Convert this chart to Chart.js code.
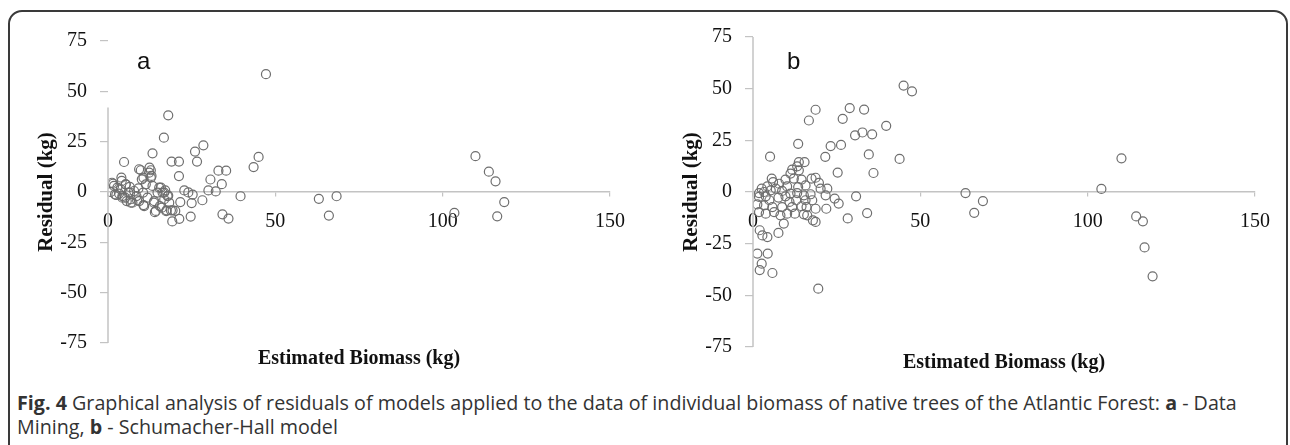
<!doctype html>
<html lang="en">
<head>
<meta charset="utf-8">
<title>Residuals</title>
<style>
  body { margin: 0; background: #fff; width: 1290px; height: 445px; overflow: hidden; position: relative; }
  #frame { position: absolute; left: 8px; top: 10px; width: 1276px; height: 500px; border: 2px solid #3a3a3a; border-radius: 14px; }
  canvas { position: absolute; top: 0; }
  #caption { position: absolute; left: 17px; top: 391px; font-family: "Open Sans", sans-serif; font-size: 19.7px; line-height: 24px; color: #333; white-space: nowrap; }
  #caption b { font-weight: 700; }
</style>
</head>
<body>
<div id="frame"></div>
<canvas id="chartA" width="645" height="385" style="left:0px"></canvas>
<canvas id="chartB" width="645" height="385" style="left:645px"></canvas>
<div id="caption"><b>Fig. 4</b> Graphical analysis of residuals of models applied to the data of individual biomass of native trees of the Atlantic Forest: <b>a</b> - Data<br>Mining, <b>b</b> - Schumacher-Hall model</div>
<script src="https://cdn.jsdelivr.net/npm/chart.js@4.4.1/dist/chart.umd.min.js"></script>
<script>
// axis ticks
var yTicks = [-75, -50, -25, 0, 25, 50, 75];
var xTicks = [0, 50, 100, 150];

// a - Data Mining: estimated biomass (kg) vs residual (kg)
var dmX = [47.2, 18.0, 16.7, 28.5, 26.0, 13.3, 26.6, 19.0, 21.2, 4.8, 45.0, 43.5, 21.2, 33.0, 35.3, 30.6, 34.0, 30.0, 32.2, 39.6,
  28.2, 22.8, 24.0, 25.3, 25.0, 21.6, 24.7, 21.3, 19.2, 34.2, 36.0, 63.0, 68.3, 66.0, 103.5, 109.8, 113.8, 115.8, 118.4, 116.3,
  0.8, 1.8, 1.5, 2.8, 2.1, 3.3, 4.1, 3.8, 4.3, 5.3, 5.1, 6.1, 6.8, 6.5, 7.8, 7.3, 8.5, 9.1, 9.3, 10.1,
  10.5, 10.8, 11.3, 11.8, 12.3, 12.8, 13.3, 13.8, 14.3, 14.8, 15.3, 15.5, 16.3, 16.8, 17.1, 17.8, 18.3, 17.5, 18.8, 20.1,
  9.8, 12.8, 9.3, 12.4, 13.0, 10.6, 4.0, 1.2, 5.3, 6.6, 2.5, 4.3, 5.6, 6.8, 8.7, 10.6, 13.7, 14.0, 16.1, 17.4, 19.3, 16.8, 15.8, 18.0];
var dmY = [58.5, 38.1, 27.0, 23.2, 20.1, 19.2, 15.1, 15.1, 15.1, 14.9, 17.4, 12.4, 7.9, 10.6, 10.6, 6.2, 3.9, 0.8, 0.3, -2.1,
  -4.1, 0.8, -0.2, -1.3, -5.5, -5.0, -12.2, -13.3, -14.6, -11.1, -13.2, -3.4, -2.1, -11.7, -10.4, 17.8, 10.1, 5.3, -5.0, -12.1,
  0.0, 3.0, 4.1, 2.2, -1.2, -0.8, 5.5, 1.3, -2.0, 3.8, -2.8, -0.3, -3.6, 2.5, 0.5, -5.3, -2.0, 1.8, -4.5, 6.3,
  -0.3, -7.0, 3.8, -2.8, 9.6, 7.1, 3.0, -4.5, -9.4, -0.3, 2.2, -7.0, -0.3, -3.6, 0.8, -2.0, -5.3, -9.1, -9.1, -9.4,
  10.8, 10.8, 11.3, 12.1, 8.0, 7.1, 7.1, 4.6, 3.8, -0.3, -1.5, -2.8, -4.5, -5.3, -4.1, -6.5, -5.3, -10.0, -7.8, -9.5, -9.1, -0.3, 2.2, -1.8];

// b - Schumacher-Hall model
var shX = [45.0, 47.5, 28.9, 33.2, 18.7, 16.7, 26.8, 39.8, 30.5, 32.7, 35.6, 13.5, 23.2, 26.3, 5.1, 21.6, 34.6, 43.8, 25.3, 36.0,
  30.8, 28.3, 34.1, 19.5, 63.5, 66.1, 68.7, 104.1, 110.1, 114.5, 116.5, 117.0, 119.4, 1.3, 4.4, 2.6, 2.0, 5.8,
  13.7, 15.4, 11.7, 13.2, 13.7, 11.2, 9.7, 12.2, 14.5, 17.5, 18.7, 5.6, 6.0, 7.8, 10.2, 13.5, 15.7, 19.7, 20.2, 22.2,
  1.8, 2.6, 3.3, 4.3, 5.3, 6.8, 8.7, 11.2, 13.2, 15.2, 17.2, 21.7, 24.4, 25.6, 1.8, 3.8, 4.9, 7.6, 9.7, 10.9,
  12.9, 15.7, 17.7, 18.7, 21.9, 1.3, 3.3, 5.8, 8.7, 11.7, 14.5, 16.0, 1.8, 3.8, 6.3, 8.2, 10.2, 12.5, 15.2, 16.2,
  17.9, 18.7, 9.2, 2.0, 2.8, 4.3, 7.6];
var shY = [51.5, 48.7, 40.6, 39.9, 39.8, 34.6, 35.4, 32.0, 27.4, 28.8, 27.9, 23.3, 22.2, 22.8, 17.1, 17.0, 18.2, 16.0, 9.4, 9.2,
  -2.1, -12.8, -10.2, -46.8, -0.5, -10.1, -4.4, 1.5, 16.3, -11.8, -14.2, -26.8, -40.8, -29.8, -29.8, -34.7, -37.8, -39.2,
  14.5, 14.5, 10.8, 12.4, 10.5, 8.9, 6.0, 6.5, 6.0, 6.5, 6.9, 6.5, 4.8, 4.0, 2.7, 2.4, 3.2, 4.4, 1.6, 1.6,
  -0.5, 1.6, 0.0, 2.7, 0.8, 1.6, 0.5, -0.8, -0.5, -1.6, -1.1, -1.6, -3.2, -5.6, -2.4, -2.1, -4.0, -2.7, -2.1, -4.8,
  -4.0, -4.0, -4.0, -8.1, -8.1, -6.0, -6.5, -7.3, -7.3, -7.3, -6.9, -7.3, -9.7, -10.5, -9.7, -11.3, -10.5, -10.5, -10.8, -11.3,
  -13.7, -14.5, -15.3, -18.5, -21.0, -21.8, -19.8];

function toPoints(xs, ys) {
  var pts = [];
  for (var i = 0; i < xs.length; i++) pts.push({x: xs[i], y: ys[i]});
  return pts;
}

var axisColor = '#c3c3c3';
var serif = '"Liberation Serif", "Times New Roman", serif';

// panel letter and the y axis line (which in panel a starts below the top)
var panelDecor = {
  id: 'panelDecor',
  afterDraw(chart, args, opts) {
    var ctx = chart.ctx, a = chart.chartArea, ys = chart.scales.y;
    ctx.save();
    ctx.strokeStyle = axisColor;
    ctx.lineWidth = 1.5;
    ctx.beginPath();
    ctx.moveTo(a.left, ys.getPixelForValue(opts.axisTop));
    ctx.lineTo(a.left, ys.getPixelForValue(-75));
    ctx.stroke();
    ctx.font = '24px "Liberation Sans", Arial, sans-serif';
    ctx.fillStyle = '#111';
    ctx.textBaseline = 'middle';
    ctx.fillText(opts.text, a.left + opts.dx, a.top + opts.dy);
    ctx.restore();
  }
};

function makeChart(id, xs, ys, letter, pad, axisTop, dx, dy) {
  var ctx = document.getElementById(id).getContext('2d');
  return new Chart(ctx, {
    type: 'scatter',
    data: {
      datasets: [{
        data: toPoints(xs, ys),
        pointRadius: 4.5,
        pointBorderWidth: 1.2,
        borderColor: '#6e6e6e',
        backgroundColor: 'rgba(255,255,255,0)'
      }]
    },
    plugins: [panelDecor],
    options: {
      responsive: false,
      animation: false,
      layout: { padding: pad },
      plugins: {
        legend: { display: false },
        tooltip: { enabled: false },
        title: {
          display: true,
          position: 'bottom',
          fullSize: false,
          text: 'Estimated Biomass (kg)',
          color: '#111',
          font: { family: serif, size: 20, weight: 'bold' },
          padding: { top: 4, bottom: 4 }
        },
        panelDecor: { text: letter, axisTop: axisTop, dx: dx, dy: dy }
      },
      scales: {
        x: {
          type: 'linear',
          position: { y: 0 },
          min: 0, max: 150,
          afterBuildTicks: function(scale) { scale.ticks = xTicks.map(function(v) { return {value: v}; }); },
          grid: { drawOnChartArea: false, color: axisColor, tickLength: 4, lineWidth: 1.2 },
          border: { display: true, color: axisColor, width: 1.5 },
          ticks: { color: '#111', font: { family: serif, size: 20 }, padding: 14, maxRotation: 0 }
        },
        y: {
          type: 'linear',
          min: -75, max: 75,
          afterBuildTicks: function(scale) { scale.ticks = yTicks.map(function(v) { return {value: v}; }); },
          afterFit: function(scale) { scale.width = 108; },
          grid: { drawOnChartArea: false, color: axisColor, tickLength: 8, lineWidth: 1.2 },
          border: { display: false },
          ticks: { color: '#111', font: { family: serif, size: 20 }, padding: 13 },
          title: {
            display: true,
            text: 'Residual (kg)',
            color: '#111',
            font: { family: serif, size: 21, weight: 'bold' },
            padding: { top: 34, bottom: 0 }
          }
        }
      }
    }
  });
}

makeChart('chartA', dmX, dmY, 'a', { left: 0, right: 35, top: 41, bottom: 10 }, 42, 29, 21);
makeChart('chartB', shX, shY, 'b', { left: 0, right: 35, top: 37, bottom: 6 }, 75, 34, 25);
</script>
</body>
</html>
